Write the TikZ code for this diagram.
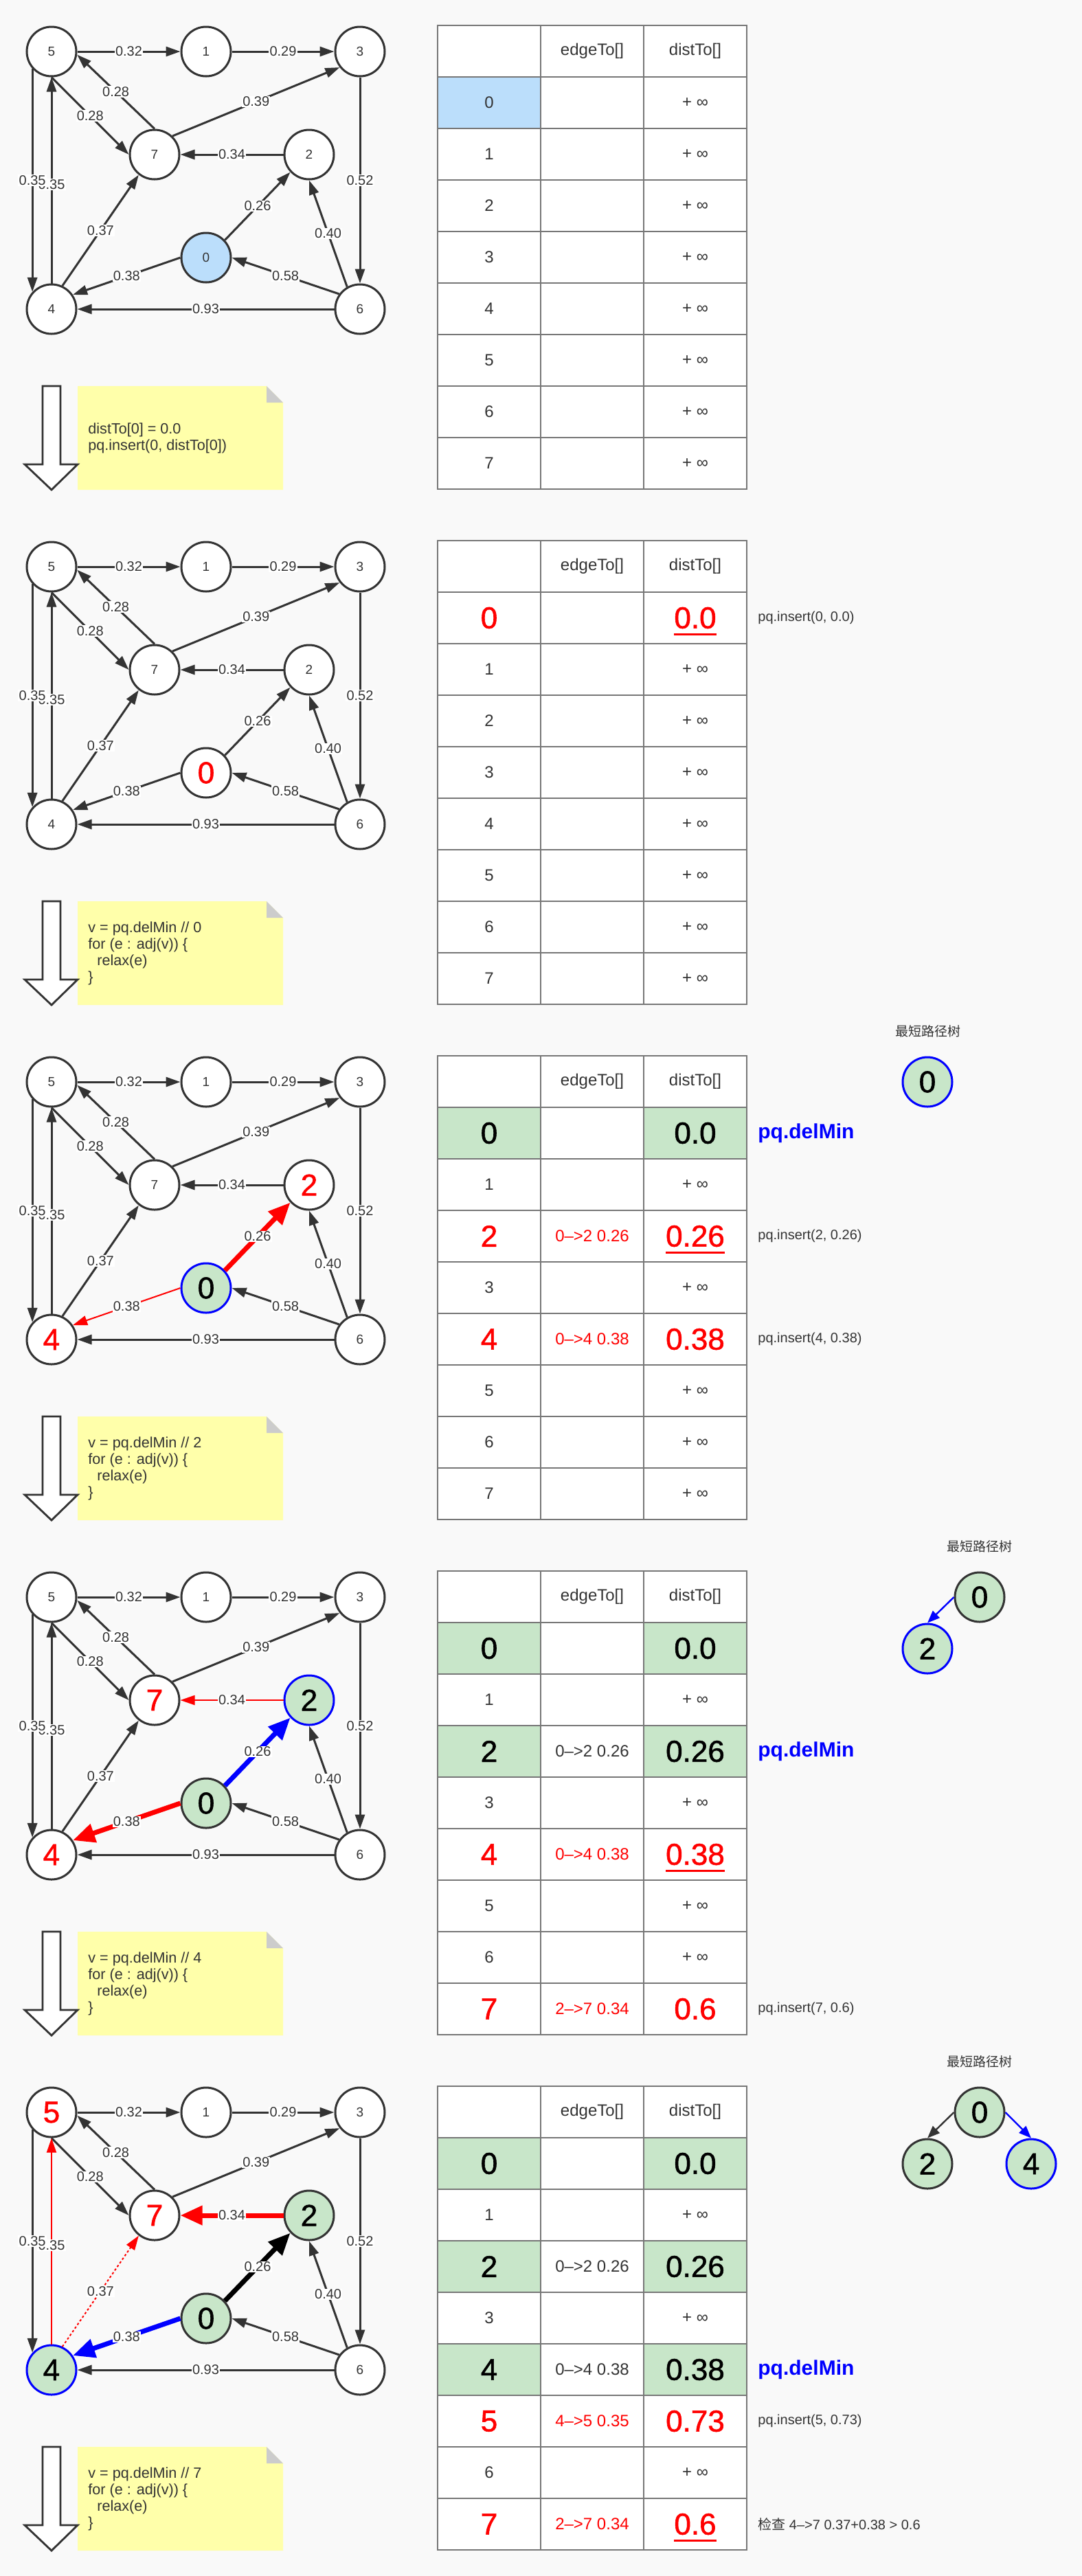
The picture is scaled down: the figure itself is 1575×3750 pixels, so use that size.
\documentclass[tikz,border=0pt]{standalone}
\usepackage{fontspec}
\setmainfont{Liberation Sans}
\newfontfamily\cjk{Noto Sans CJK SC}
\newfontfamily\bigfam[FakeBold=1.3]{Liberation Sans}
\usetikzlibrary{arrows.meta,calc}
\definecolor{bgc}{HTML}{F9F9F9}
\definecolor{ink}{HTML}{333333}
\definecolor{tline}{HTML}{777777}
\definecolor{gfill}{HTML}{C8E6C9}
\definecolor{bfill}{HTML}{BBDEFB}
\definecolor{notef}{HTML}{FFFFAA}
\definecolor{foldc}{HTML}{CCCCCC}
\newcommand\bigf{\bigfam\fontsize{22pt}{26pt}\selectfont}
\newcommand\redul[1]{\setbox0=\hbox{#1}\rlap{\raisebox{-5pt}[0pt][0pt]{\rule{\wd0}{1.4pt}}}\box0}
\tikzset{
 vtx/.style={circle, draw=ink, line width=1.5pt, fill=white, minimum size=36pt, inner sep=0pt, font=\fontsize{9.5pt}{11pt}\selectfont, text=ink},
 vbigred/.style={font=\bigf, text=red},
 vgreen/.style={fill=gfill, font=\bigf, text=black},
 edge/.style={draw=ink, line width=1.5pt, -{Triangle[length=10.5pt,width=7pt]}},
 ethin/.style={line width=1pt},
 ethick/.style={line width=3.5pt, -{Triangle[length=16pt,width=13.5pt]}},
 ered/.style={draw=red},
 eblue/.style={draw=blue},
 eblack/.style={draw=black},
 edot/.style={dash pattern=on 1.6pt off 1.6pt},
 elab/.style={fill=white, inner sep=0.6pt, font=\fontsize{10pt}{12pt}\selectfont, text=ink},
 cell/.style={rectangle, draw=tline, line width=1pt, fill=white, minimum width=75pt, minimum height=37.5pt, inner sep=0pt, font=\fontsize{12pt}{14pt}\selectfont, text=ink},
 cbigred/.style={font=\bigf, text=red},
 cred/.style={text=red},
 cgreen/.style={fill=gfill, font=\bigf, text=black},
 cblue/.style={fill=bfill},
 sidet/.style={anchor=west, inner sep=0pt, font=\fontsize{10pt}{12pt}\selectfont, text=ink},
 sdel/.style={font=\bfseries\fontsize{15pt}{18pt}\selectfont, text=blue},
 notet/.style={anchor=west, align=left, inner sep=0pt, font=\fontsize{10.8pt}{12pt}\selectfont, text=ink},
 ttl/.style={inner sep=0pt, font=\cjk\fontsize{9.5pt}{11pt}\selectfont, text=ink},
 tedge/.style={draw=ink, line width=1.2pt, -{Triangle[length=9pt,width=7pt]}},
 v0/.style={}, v1/.style={}, v2/.style={}, v3/.style={}, v4/.style={}, v5/.style={}, v6/.style={}, v7/.style={},
 e51/.style={}, e13/.style={}, e75/.style={}, e57/.style={}, e73/.style={}, e27/.style={}, e36/.style={}, e54/.style={},
 e45/.style={}, e47/.style={}, e02/.style={}, e62/.style={}, e04/.style={}, e60/.style={}, e64/.style={}
}
\newcommand\drawgraph[1]{%
 \node[vtx,v5] (#1g5) at (75,75) {5};
 \node[vtx,v1] (#1g1) at (300,75) {1};
 \node[vtx,v3] (#1g3) at (524,75) {3};
 \node[vtx,v7] (#1g7) at (225,225) {7};
 \node[vtx,v2] (#1g2) at (450,225) {2};
 \node[vtx,v0] (#1g0) at (300,375) {0};
 \node[vtx,v4] (#1g4) at (75,450) {4};
 \node[vtx,v6] (#1g6) at (524,450) {6};
 \draw[edge,e51] (#1g5.east) -- node[elab]{0.32} (#1g1.west);
 \draw[edge,e13] (#1g1.east) -- node[elab]{0.29} (#1g3.west);
 \draw[edge,e75] (#1g7.north) -- node[elab]{0.28} (#1g5.-7);
 \draw[edge,e57] (#1g5.south) -- node[elab]{0.28} (#1g7.west);
 \draw[edge,e73] (#1g7.46) -- node[elab]{0.39} (#1g3.218);
 \draw[edge,e27] (#1g2.west) -- node[elab]{0.34} (#1g7.east);
 \draw[edge,e36] (#1g3.south) -- node[elab]{0.52} (#1g6.north);
 \draw[edge,e45] (#1g4.north) -- node[elab,pos=0.48]{0.35} (#1g5.south);
 \draw[edge,e54] (#1g5.222) -- node[elab]{0.35} (#1g4.138);
 \draw[edge,e47] (#1g4.65) -- node[elab]{0.37} (#1g7.232);
 \draw[edge,e02] (#1g0.43) -- node[elab]{0.26} (#1g2.223);
 \draw[edge,e62] (#1g6.120) -- node[elab]{0.40} (#1g2.south);
 \draw[edge,e04] (#1g0.west) -- node[elab]{0.38} (#1g4.34);
 \draw[edge,e60] (#1g6.144) -- node[elab]{0.58} (#1g0.east);
 \draw[edge,e64] (#1g6.west) -- node[elab]{0.93} (#1g4.east);
}
\newcommand\trow[8]{%
 \node[cell,#3] (#1r#2a) at (712,{149.5+75*#2}) {#4};
 \node[cell,#5] (#1r#2b) at (862,{149.5+75*#2}) {#6};
 \node[cell,#7] (#1r#2c) at (1012,{149.5+75*#2}) {#8};}
\newcommand\prow[2]{\trow{#1}{#2}{}{#2}{}{}{}{+ ∞}}
\newcommand\thead[1]{%
 \node[cell] (#1h1) at (712,74.5) {};
 \node[cell] (#1h2) at (862,74.5) {edgeTo[]};
 \node[cell] (#1h3) at (1012,74.5) {distTo[]};}
\newcommand\side[4]{\node[sidet,#3] (#1s#2) at (1103,{149.5+75*#2}) {#4};}
\newcommand\stepnote[2]{%
 \fill[notef] (113,562) -- (388,562) -- (412,586) -- (412,713) -- (113,713) -- cycle;
 \fill[foldc] (388,562) -- (412,586) -- (388,586) -- cycle;
 \draw[ink, line width=1.4pt, fill=white, line join=miter] (62,562) -- (88,562) -- (88,676) -- (113,676) -- (75,713) -- (36,676) -- (62,676) -- cycle;
 \node[notet] (#1note) at (128,638) {#2};}
\newcommand\loopnote[2]{\stepnote{#1}{v = pq.delMin // #2\\for (e : adj(v)) \{\\\hspace*{6.5pt}relax(e)\\\}}}
\begin{document}
\begin{tikzpicture}[x=0.5pt,y=-0.5pt]
\useasboundingbox (0,0) rectangle (1575,3750);
\fill[bgc] (0,0) rectangle (1575,3750);
% ---------- panel 1
\begin{scope}[v0/.style={fill=bfill}]
\drawgraph{a}
\thead{a}
\trow{a}{0}{cblue}{0}{}{}{}{+ ∞}
\prow{a}{1}\prow{a}{2}\prow{a}{3}\prow{a}{4}\prow{a}{5}\prow{a}{6}\prow{a}{7}
\stepnote{a}{distTo[0] = 0.0\\pq.insert(0, distTo[0])}
\end{scope}
% ---------- panel 2
\begin{scope}[shift={(0,750)}, v0/.style={vbigred}]
\drawgraph{b}
\thead{b}
\trow{b}{0}{cbigred}{0}{}{}{cbigred}{\redul{0.0}}
\prow{b}{1}\prow{b}{2}\prow{b}{3}\prow{b}{4}\prow{b}{5}\prow{b}{6}\prow{b}{7}
\side{b}{0}{}{pq.insert(0, 0.0)}
\loopnote{b}{0}
\end{scope}
% ---------- panel 3
\begin{scope}[shift={(0,1500)}, v0/.style={vgreen,draw=blue}, v2/.style={vbigred}, v4/.style={vbigred},
  e02/.style={ered,ethick}, e04/.style={ered,ethin}]
\drawgraph{c}
\thead{c}
\trow{c}{0}{cgreen}{0}{}{}{cgreen}{0.0}
\prow{c}{1}
\trow{c}{2}{cbigred}{2}{cred}{0–>2 0.26}{cbigred}{\redul{0.26}}
\prow{c}{3}
\trow{c}{4}{cbigred}{4}{cred}{0–>4 0.38}{cbigred}{0.38}
\prow{c}{5}\prow{c}{6}\prow{c}{7}
\side{c}{0}{sdel}{pq.delMin}
\side{c}{2}{}{pq.insert(2, 0.26)}
\side{c}{4}{}{pq.insert(4, 0.38)}
\node[ttl] (cttl) at (1351,1) {最短路径树};
\node[vtx,vgreen,draw=blue] (ct0) at (1350,75) {0};
\loopnote{c}{2}
\end{scope}
% ---------- panel 4
\begin{scope}[shift={(0,2250)}, v0/.style={vgreen}, v2/.style={vgreen,draw=blue}, v7/.style={vbigred}, v4/.style={vbigred},
  e02/.style={eblue,ethick}, e04/.style={ered,ethick}, e27/.style={ered,ethin}]
\drawgraph{d}
\thead{d}
\trow{d}{0}{cgreen}{0}{}{}{cgreen}{0.0}
\prow{d}{1}
\trow{d}{2}{cgreen}{2}{}{0–>2 0.26}{cgreen}{0.26}
\prow{d}{3}
\trow{d}{4}{cbigred}{4}{cred}{0–>4 0.38}{cbigred}{\redul{0.38}}
\prow{d}{5}\prow{d}{6}
\trow{d}{7}{cbigred}{7}{cred}{2–>7 0.34}{cbigred}{0.6}
\side{d}{2}{sdel}{pq.delMin}
\side{d}{7}{}{pq.insert(7, 0.6)}
\node[ttl] (dttl) at (1426,1) {最短路径树};
\node[vtx,vgreen] (dt0) at (1426,75) {0};
\node[vtx,vgreen,draw=blue] (dt2) at (1350,150) {2};
\draw[tedge,draw=blue] (dt0.west) -- (dt2.north);
\loopnote{d}{4}
\end{scope}
% ---------- panel 5
\begin{scope}[shift={(0,3000)}, v0/.style={vgreen}, v2/.style={vgreen}, v4/.style={vgreen,draw=blue}, v5/.style={vbigred}, v7/.style={vbigred},
  e02/.style={eblack,ethick}, e04/.style={eblue,ethick}, e27/.style={ered,ethick}, e45/.style={ered,ethin}, e47/.style={ered,ethin,edot}]
\drawgraph{e}
\thead{e}
\trow{e}{0}{cgreen}{0}{}{}{cgreen}{0.0}
\prow{e}{1}
\trow{e}{2}{cgreen}{2}{}{0–>2 0.26}{cgreen}{0.26}
\prow{e}{3}
\trow{e}{4}{cgreen}{4}{}{0–>4 0.38}{cgreen}{0.38}
\trow{e}{5}{cbigred}{5}{cred}{4–>5 0.35}{cbigred}{0.73}
\prow{e}{6}
\trow{e}{7}{cbigred}{7}{cred}{2–>7 0.34}{cbigred}{\redul{0.6}}
\side{e}{4}{sdel}{pq.delMin}
\side{e}{5}{}{pq.insert(5, 0.73)}
\side{e}{7}{}{{\cjk 检查} 4–>7 0.37+0.38 > 0.6}
\node[ttl] (ettl) at (1426,1) {最短路径树};
\node[vtx,vgreen] (et0) at (1426,75) {0};
\node[vtx,vgreen] (et2) at (1350,150) {2};
\node[vtx,vgreen,draw=blue] (et4) at (1501,150) {4};
\draw[tedge] (et0.west) -- (et2.north);
\draw[tedge,draw=blue] (et0.east) -- (et4.north);
\loopnote{e}{7}
\end{scope}
\end{tikzpicture}
\end{document}
